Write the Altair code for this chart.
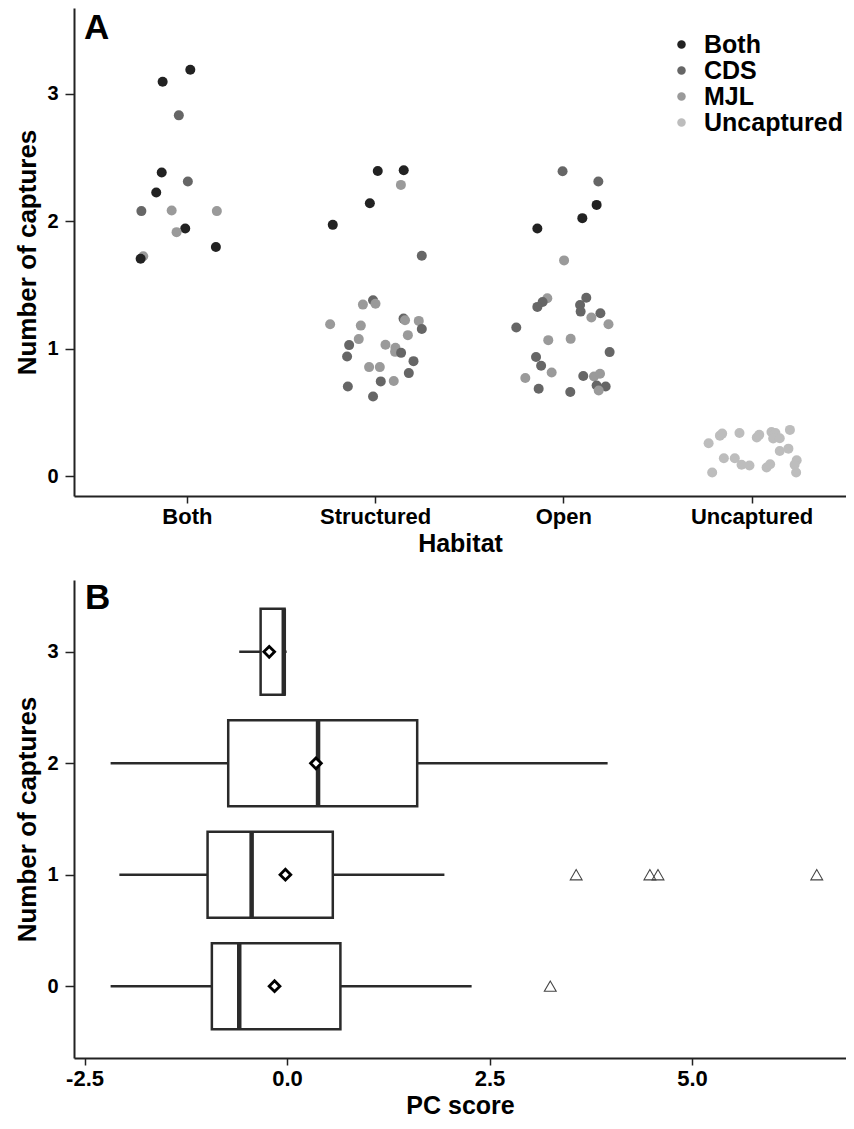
import altair as alt
import pandas as pd

FONT = "Liberation Sans"

# ---------------- Panel A data ----------------
habitats = ["Both", "Structured", "Open", "Uncaptured"]
groups = ["Both", "CDS", "MJL", "Uncaptured"]
group_colors = ["#222222", "#666666", "#9a9a9a", "#bdbdbd"]

# jittered habitat position (1..4) and jittered number of captures
both_group = ["Both", "Both", "CDS", "Both", "CDS", "Both", "CDS", "MJL", "MJL",
              "Both", "MJL", "Both", "MJL", "Both"]
both_x = [1.018, 0.871, 0.957, 0.866, 1.005, 0.837, 0.758, 0.919, 1.159,
          0.991, 0.945, 1.154, 0.768, 0.754]
both_y = [3.190, 3.096, 2.832, 2.383, 2.312, 2.226, 2.080, 2.085, 2.080,
          1.944, 1.915, 1.798, 1.725, 1.706]

struct_group = ["Both", "Both", "MJL", "Both", "Both", "CDS", "CDS", "MJL", "MJL",
                "CDS", "MJL", "MJL", "MJL", "MJL", "CDS", "MJL", "MJL", "CDS",
                "MJL", "MJL", "MJL", "CDS", "CDS", "CDS", "MJL", "MJL", "CDS",
                "CDS", "MJL", "CDS", "CDS"]
struct_x = [2.014, 2.152, 2.137, 1.972, 1.775, 2.248, 1.989, 1.935, 2.002,
            2.151, 2.159, 2.232, 1.761, 1.924, 2.248, 2.174, 1.913, 1.862,
            2.055, 2.108, 2.106, 2.138, 1.851, 2.204, 1.968, 2.025, 2.179,
            2.030, 2.099, 1.855, 1.989]
struct_y = [2.395, 2.401, 2.286, 2.142, 1.972, 1.729, 1.380, 1.346, 1.353,
            1.236, 1.223, 1.218, 1.192, 1.181, 1.155, 1.106, 1.075, 1.028,
            1.030, 1.007, 0.975, 0.967, 0.938, 0.902, 0.855, 0.855, 0.808,
            0.743, 0.746, 0.703, 0.625]

open_group = ["CDS", "CDS", "Both", "Both", "Both", "MJL", "MJL", "CDS", "CDS",
              "CDS", "CDS", "CDS", "CDS", "MJL", "MJL", "CDS", "MJL", "MJL",
              "CDS", "CDS", "CDS", "MJL", "MJL", "CDS", "MJL", "MJL", "CDS",
              "CDS", "MJL", "CDS", "CDS"]
open_x = [2.996, 3.186, 3.177, 3.101, 2.862, 3.004, 2.915, 2.890, 2.862,
          3.122, 3.089, 3.092, 3.197, 3.149, 3.240, 2.750, 2.920, 3.039,
          3.246, 2.855, 2.882, 2.938, 2.798, 3.106, 3.163, 3.195, 3.177,
          3.225, 3.188, 2.869, 3.037]
open_y = [2.393, 2.312, 2.129, 2.025, 1.944, 1.693, 1.396, 1.367, 1.328,
          1.400, 1.343, 1.291, 1.278, 1.244, 1.192, 1.166, 1.067, 1.077,
          0.973, 0.934, 0.866, 0.813, 0.769, 0.785, 0.782, 0.803, 0.711,
          0.703, 0.672, 0.685, 0.660]

uncap_x = [3.772, 3.832, 3.844, 3.936, 4.028, 4.041, 4.106, 4.127, 4.115,
           4.150, 4.204, 3.853, 3.911, 3.947, 3.989, 4.080, 4.099, 4.150,
           4.196, 4.240, 4.229, 4.237, 3.791]
uncap_y = [0.257, 0.317, 0.333, 0.338, 0.302, 0.323, 0.346, 0.338, 0.294,
           0.296, 0.362, 0.139, 0.139, 0.088, 0.082, 0.067, 0.092, 0.197,
           0.215, 0.124, 0.088, 0.027, 0.027]
uncap_group = ["Uncaptured"] * len(uncap_x)

# ---------------- Panel B data ----------------
captures = [0, 1, 2, 3]
q1 = [-0.928, -0.981, -0.726, -0.326]
q3 = [0.659, 0.565, 1.607, -0.030]
median = [-0.590, -0.437, 0.383, -0.040]
mean = [-0.154, -0.020, 0.357, -0.220]
whisk_lo = [-2.178, -2.070, -2.178, -0.590]
whisk_hi = [2.279, 1.943, 3.958, -0.005]
out_captures = [0, 1, 1, 1, 1]
out_score = [3.25, 3.57, 4.48, 4.58, 6.54]

# ---------------- build tables ----------------
pts = pd.DataFrame({
    "group": both_group + struct_group + open_group + uncap_group,
    "hab": both_x + struct_x + open_x + uncap_x,
    "caps": both_y + struct_y + open_y + uncap_y,
})
boxes = pd.DataFrame({"caps": captures, "q1": q1, "q3": q3, "med": median,
                      "mean": mean, "lo": whisk_lo, "hi": whisk_hi})
outl = pd.DataFrame({"caps": out_captures, "score": out_score})

W = 772
label_expr = "[" + ",".join("'%s'" % h for h in habitats) + "][datum.value - 1]"

points = alt.Chart(pts).mark_circle(size=100, opacity=1).encode(
    x=alt.X("hab:Q", scale=alt.Scale(domain=[0.4, 4.502], nice=False, zero=False),
            axis=alt.Axis(values=[1, 2, 3, 4], labelExpr=label_expr, title="Habitat",
                          labelFontSize=22, tickSize=7)),
    y=alt.Y("caps:Q", scale=alt.Scale(domain=[-0.157, 3.675], nice=False, zero=False),
            axis=alt.Axis(values=[0, 1, 2, 3], format="d", title="Number of captures")),
    color=alt.Color("group:N", scale=alt.Scale(domain=groups, range=group_colors),
                    legend=alt.Legend(title=None, orient="none", legendX=595, legendY=24,
                                      labelFontSize=25, labelFont=FONT, labelFontWeight="bold",
                                      symbolType="circle", symbolSize=72, labelOffset=10,
                                      symbolStrokeWidth=0, rowPadding=0)),
)
letterA = alt.Chart(pd.DataFrame({"t": ["A"]})).mark_text(
    font=FONT, fontWeight="bold", fontSize=35, align="left", baseline="alphabetic",
    color="black"
).encode(text="t:N", x=alt.value(10), y=alt.value(31))

panelA = alt.layer(points, letterA).properties(width=W, height=488)

xB = alt.Scale(domain=[-2.63, 6.901], nice=False, zero=False)
yB = alt.Scale(domain=[-0.6, 3.6], nice=False, zero=False)
y_enc = alt.Y("caps:Q", scale=yB,
              axis=alt.Axis(values=[0, 1, 2, 3], format="d", title="Number of captures"))
x_lab = "datum.value < 0 ? '-' + format(-datum.value, '.1f') : format(datum.value, '.1f')"

whisk = alt.Chart(boxes).mark_rule(color="#2a2a2a", strokeWidth=2.5).encode(
    x=alt.X("lo:Q", scale=xB, axis=alt.Axis(values=[-2.5, 0, 2.5, 5], labelExpr=x_lab,
                                            title="PC score", labelFontSize=22, tickSize=7)),
    x2="hi:Q", y=y_enc)
box = alt.Chart(boxes).mark_bar(size=86, fill="white", stroke="#2a2a2a", strokeWidth=2.5,
                                orient="horizontal").encode(
    x="q1:Q", x2="q3:Q", y=y_enc)
med = alt.Chart(boxes).mark_tick(orient="vertical", size=86, thickness=4.5,
                                 color="#2a2a2a", opacity=1).encode(
    x="med:Q", y=y_enc)
mn = alt.Chart(boxes).mark_point(shape="diamond", filled=True, fill="white", stroke="black",
                                 strokeWidth=2.8, size=115, opacity=1).encode(
    x="mean:Q", y=y_enc)
outs = alt.Chart(outl).mark_point(shape="triangle-up", filled=False, stroke="#444444",
                                  strokeWidth=1.1, size=140, opacity=1).encode(
    x="score:Q", y=y_enc)
letterB = alt.Chart(pd.DataFrame({"t": ["B"]})).mark_text(
    font=FONT, fontWeight="bold", fontSize=35, align="left", baseline="alphabetic",
    color="black"
).encode(text="t:N", x=alt.value(11), y=alt.value(29))

panelB = alt.layer(whisk, box, med, mn, outs, letterB).properties(width=W, height=478)

chart = alt.vconcat(panelA, panelB, spacing=24).properties(
    padding={"top": 0, "left": 6, "right": 0, "bottom": 0}
).configure_view(stroke=None).configure_axis(
    grid=False, domainColor="#222222", domainWidth=2, tickColor="#222222", tickWidth=1.5,
    labelFont=FONT, labelFontWeight="bold", labelColor="black",
    titleFont=FONT, titleFontWeight="bold", titleColor="black", titleFontSize=25,
).configure_axisY(
    labelFontSize=20, tickSize=9, labelPadding=7, titlePadding=6, titleFontSize=26
).configure_axisX(
    labelPadding=3, titlePadding=4
)

chart.save("out.html", embed_options={"renderer": "svg", "actions": False})
